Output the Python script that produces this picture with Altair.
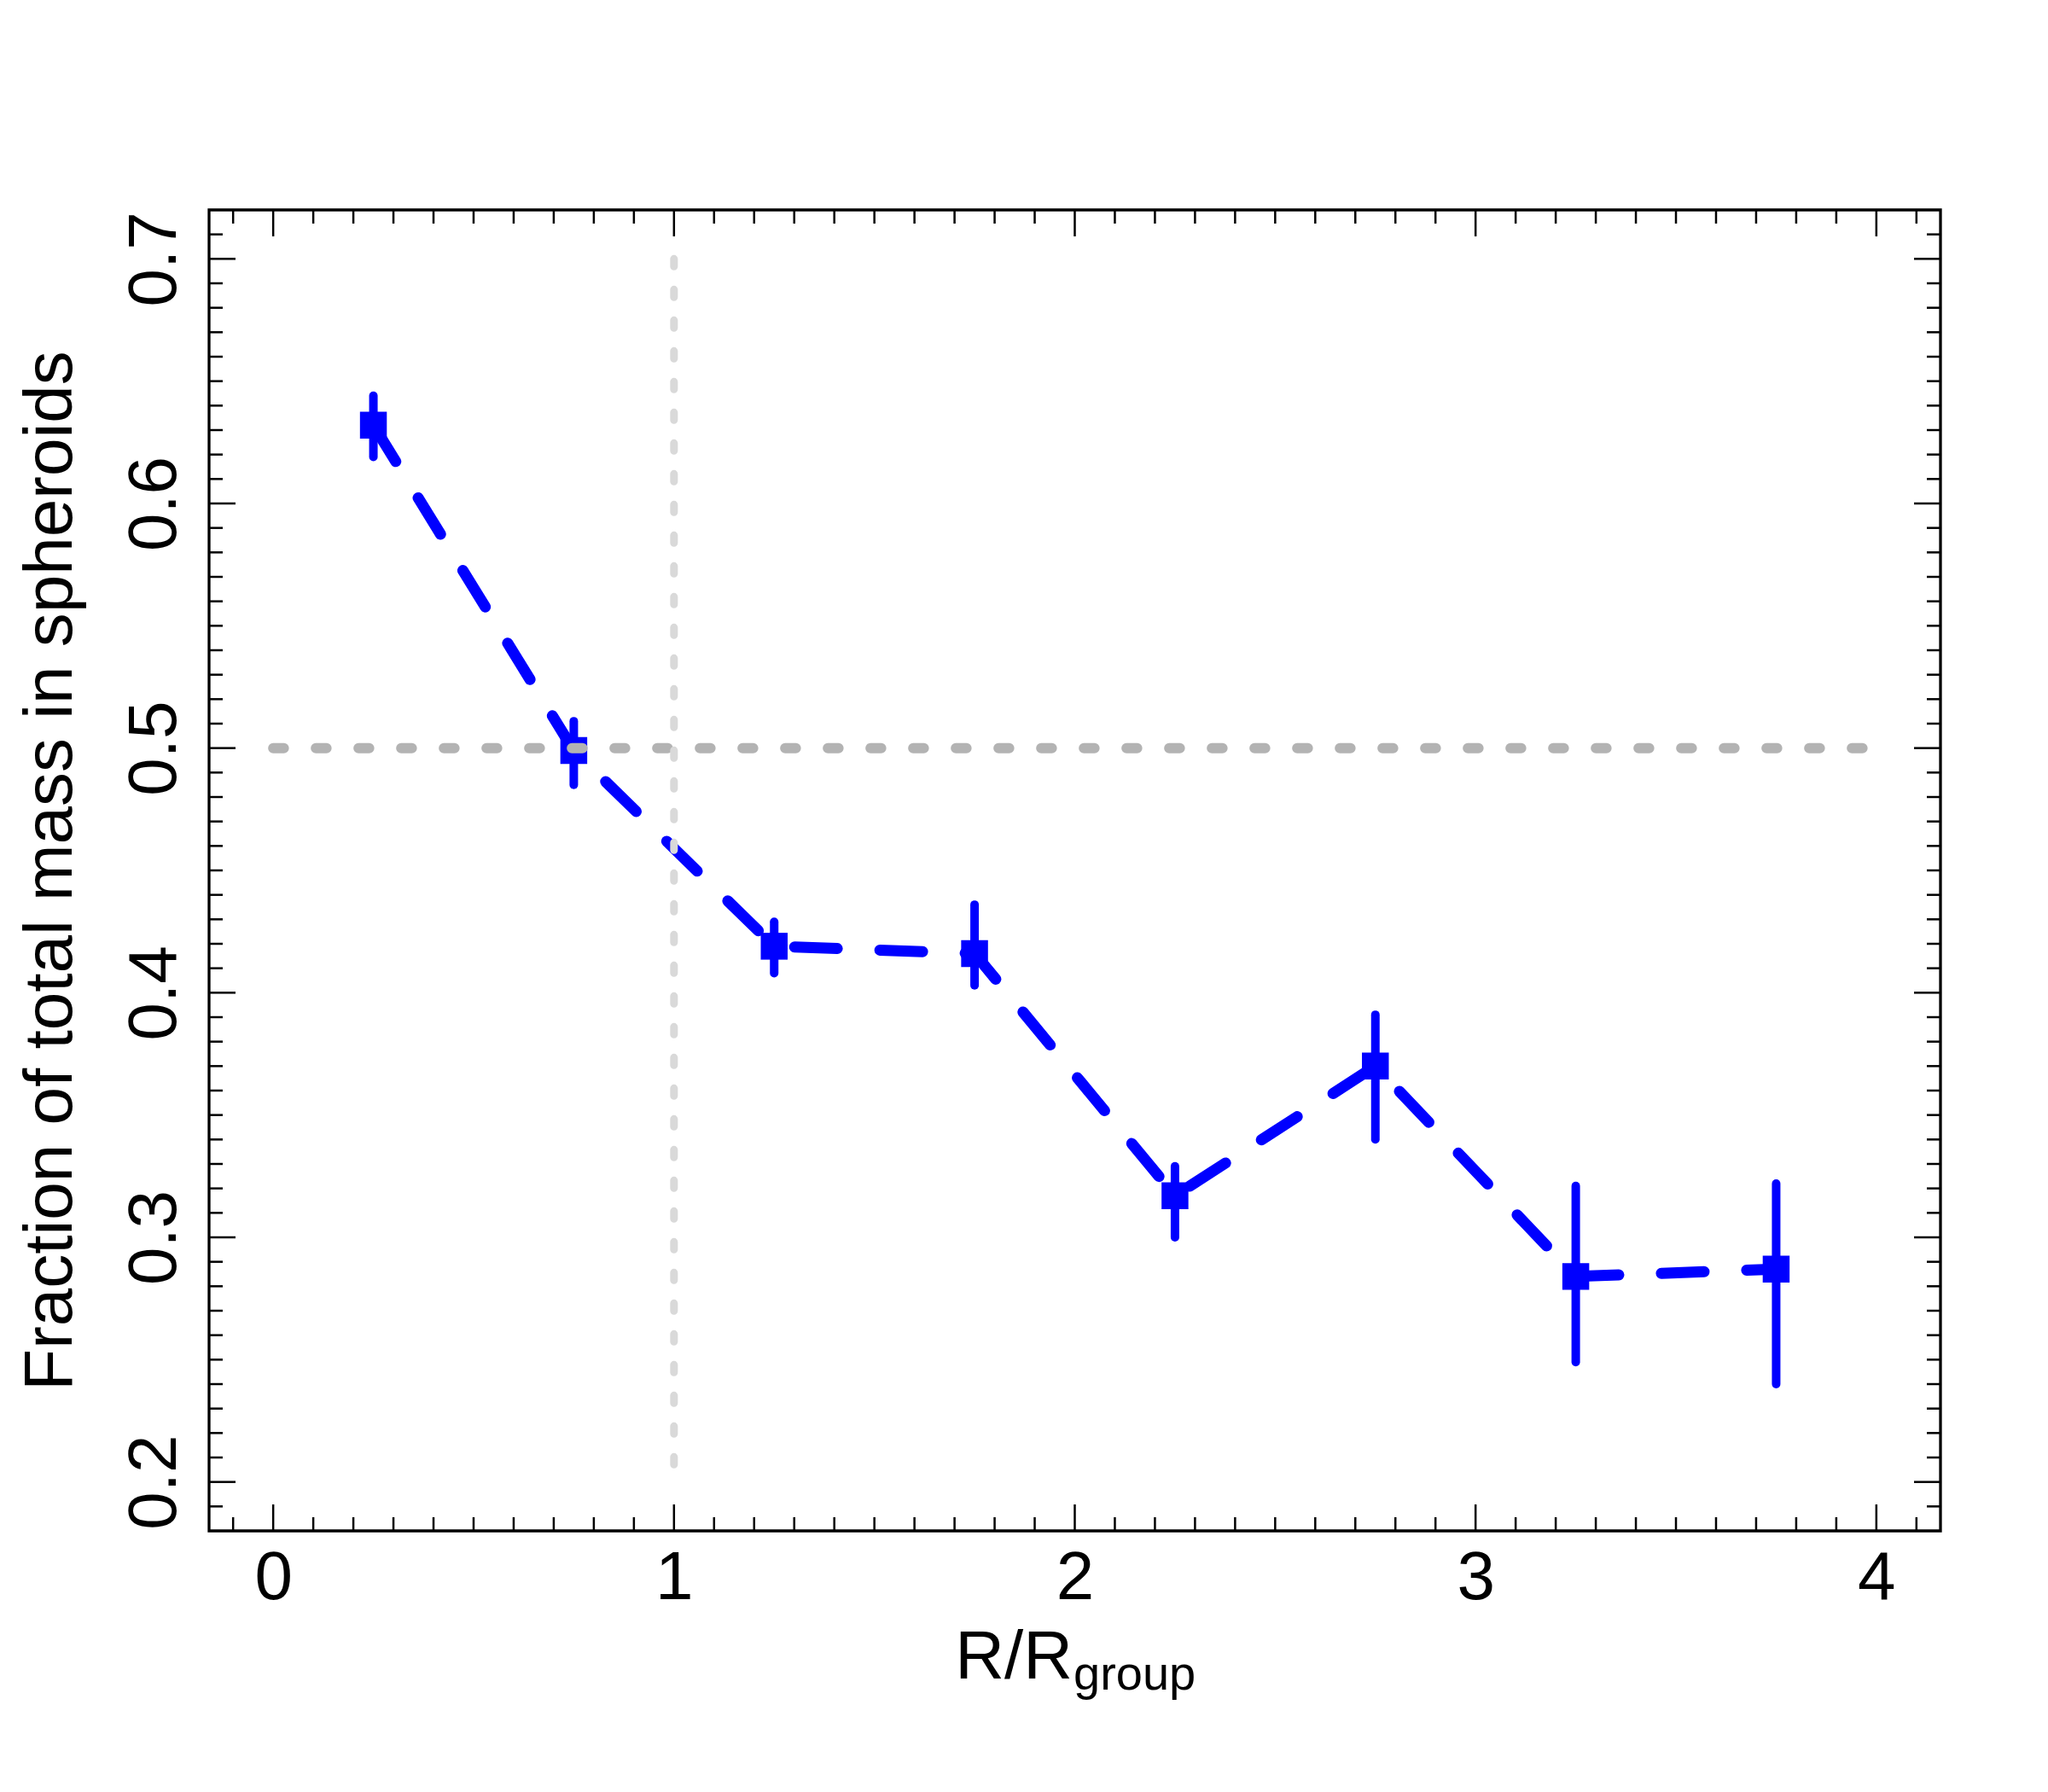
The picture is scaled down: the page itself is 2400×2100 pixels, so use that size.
import altair as alt
import pandas as pd

# ---- data ----
r_bins = [0.25, 0.75, 1.25, 1.75, 2.25, 2.75, 3.25, 3.75]
frac = [0.632, 0.499, 0.419, 0.416, 0.317, 0.370, 0.284, 0.287]
frac_lo = [0.619, 0.485, 0.408, 0.403, 0.300, 0.340, 0.249, 0.240]
frac_hi = [0.644, 0.511, 0.429, 0.436, 0.329, 0.391, 0.321, 0.322]

hline_y = [0.5]
hline_x = [0.0, 4.0]
vline_x = [1.0]
vline_y = [0.7, 0.2]

x_major = [0, 1, 2, 3, 4]
x_minor = [round(i * 0.1, 1) for i in range(-1, 42) if i % 10 != 0]
y_major = [0.2, 0.3, 0.4, 0.5, 0.6, 0.7]
y_minor = [round(i * 0.01, 2) for i in range(19, 72) if i % 10 != 0]

x_title_main = "R/R"
x_title_sub = "group"
y_title = "Fraction of total mass in spheroids"

W, H = 2029, 1548
FONT = "Liberation Sans"
BLUE = "#0000ff"

xs = alt.Scale(domain=[-0.16, 4.16], nice=False, zero=False)
ys = alt.Scale(domain=[0.18, 0.72], nice=False, zero=False)

df = pd.DataFrame({"r": r_bins, "f": frac, "lo": frac_lo, "hi": frac_hi})

x_axis = alt.Axis(values=x_major, ticks=False, tickSize=0, domain=False, grid=False,
                  labelFont=FONT, labelFontSize=80, labelColor="black",
                  labelBaseline="alphabetic", labelAlign="center", labelPadding=79,
                  labelFlush=False, labelOverlap=False, title=None)
y_axis = alt.Axis(values=y_major, format=".1f", ticks=False, tickSize=0, domain=False, grid=False,
                  labelFont=FONT, labelFontSize=80, labelColor="black",
                  labelAngle=270, labelAlign="center", labelBaseline="alphabetic",
                  labelPadding=40, labelFlush=False, labelOverlap=False,
                  title=y_title, titleFont=FONT, titleFontSize=80, titleFontWeight="normal",
                  titleColor="black", titleAngle=270, titleAlign="center",
                  titleBaseline="alphabetic", titleX=-162, titleY=H / 2)


def X(field):
    return alt.X(field, scale=xs, axis=x_axis)


def Y(field):
    return alt.Y(field, scale=ys, axis=y_axis)


line = alt.Chart(df).mark_line(color=BLUE, strokeWidth=13, strokeDash=[50, 50],
                               strokeCap="round", strokeJoin="round").encode(
    x=X("r:Q"), y=Y("f:Q"),
)
err = alt.Chart(df).mark_rule(color=BLUE, strokeWidth=10, strokeCap="round").encode(
    x=X("r:Q"), y=Y("lo:Q"), y2="hi:Q",
)
pts = alt.Chart(df).mark_point(shape="square", filled=True, size=990, color=BLUE,
                               opacity=1, strokeWidth=0).encode(
    x=X("r:Q"), y=Y("f:Q"),
)

hdf = pd.DataFrame({"x": [hline_x[0]], "x2": [hline_x[1]], "y": hline_y})
hline = alt.Chart(hdf).mark_rule(color="#b3b3b3", strokeWidth=12, strokeDash=[12.5, 37.5],
                                 strokeCap="round").encode(
    x=X("x:Q"), x2="x2:Q", y=Y("y:Q"),
)
vdf = pd.DataFrame({"x": vline_x, "y": [vline_y[0]], "y2": [vline_y[1]]})
vline = alt.Chart(vdf).mark_rule(color="#d9d9d9", strokeWidth=9, strokeDash=[9, 27],
                                 strokeCap="round").encode(
    x=X("x:Q"), y=Y("y:Q"), y2="y2:Q",
)


def xticks(vals, length, top):
    d = pd.DataFrame({"v": vals})
    if top:
        yy, yy2 = 0, length
    else:
        yy, yy2 = H, H - length
    return alt.Chart(d).mark_rule(color="black", strokeWidth=2.5).encode(
        x=X("v:Q"), y=alt.value(yy), y2=alt.value(yy2))


def yticks(vals, length, right):
    d = pd.DataFrame({"v": vals})
    if right:
        xx, xx2 = W, W - length
    else:
        xx, xx2 = 0, length
    return alt.Chart(d).mark_rule(color="black", strokeWidth=2.5).encode(
        y=Y("v:Q"), x=alt.value(xx), x2=alt.value(xx2))


ticks = [
    xticks(x_major, 31, False), xticks(x_minor, 16, False),
    xticks(x_major, 31, True), xticks(x_minor, 16, True),
    yticks(y_major, 31, False), yticks(y_minor, 16, False),
    yticks(y_major, 31, True), yticks(y_minor, 16, True),
]

t_main = alt.Chart(pd.DataFrame({"t": [x_title_main]})).mark_text(
    font=FONT, fontSize=80, color="black", align="right", baseline="alphabetic").encode(
    text="t:N", x=alt.value(1012), y=alt.value(1721))
t_sub = alt.Chart(pd.DataFrame({"t": [x_title_sub]})).mark_text(
    font=FONT, fontSize=56, color="black", align="left", baseline="alphabetic").encode(
    text="t:N", x=alt.value(1013), y=alt.value(1734))

chart = alt.layer(line, err, pts, hline, vline, *ticks, t_main, t_sub).properties(
    width=W, height=H,
    autosize=alt.AutoSizeParams(type="none"),
    padding={"left": 237, "top": 238, "right": 118, "bottom": 298},
    background="white",
).configure_view(stroke="black", strokeWidth=3.3)

chart.save("out.html", embed_options={"renderer": "svg", "actions": False})
